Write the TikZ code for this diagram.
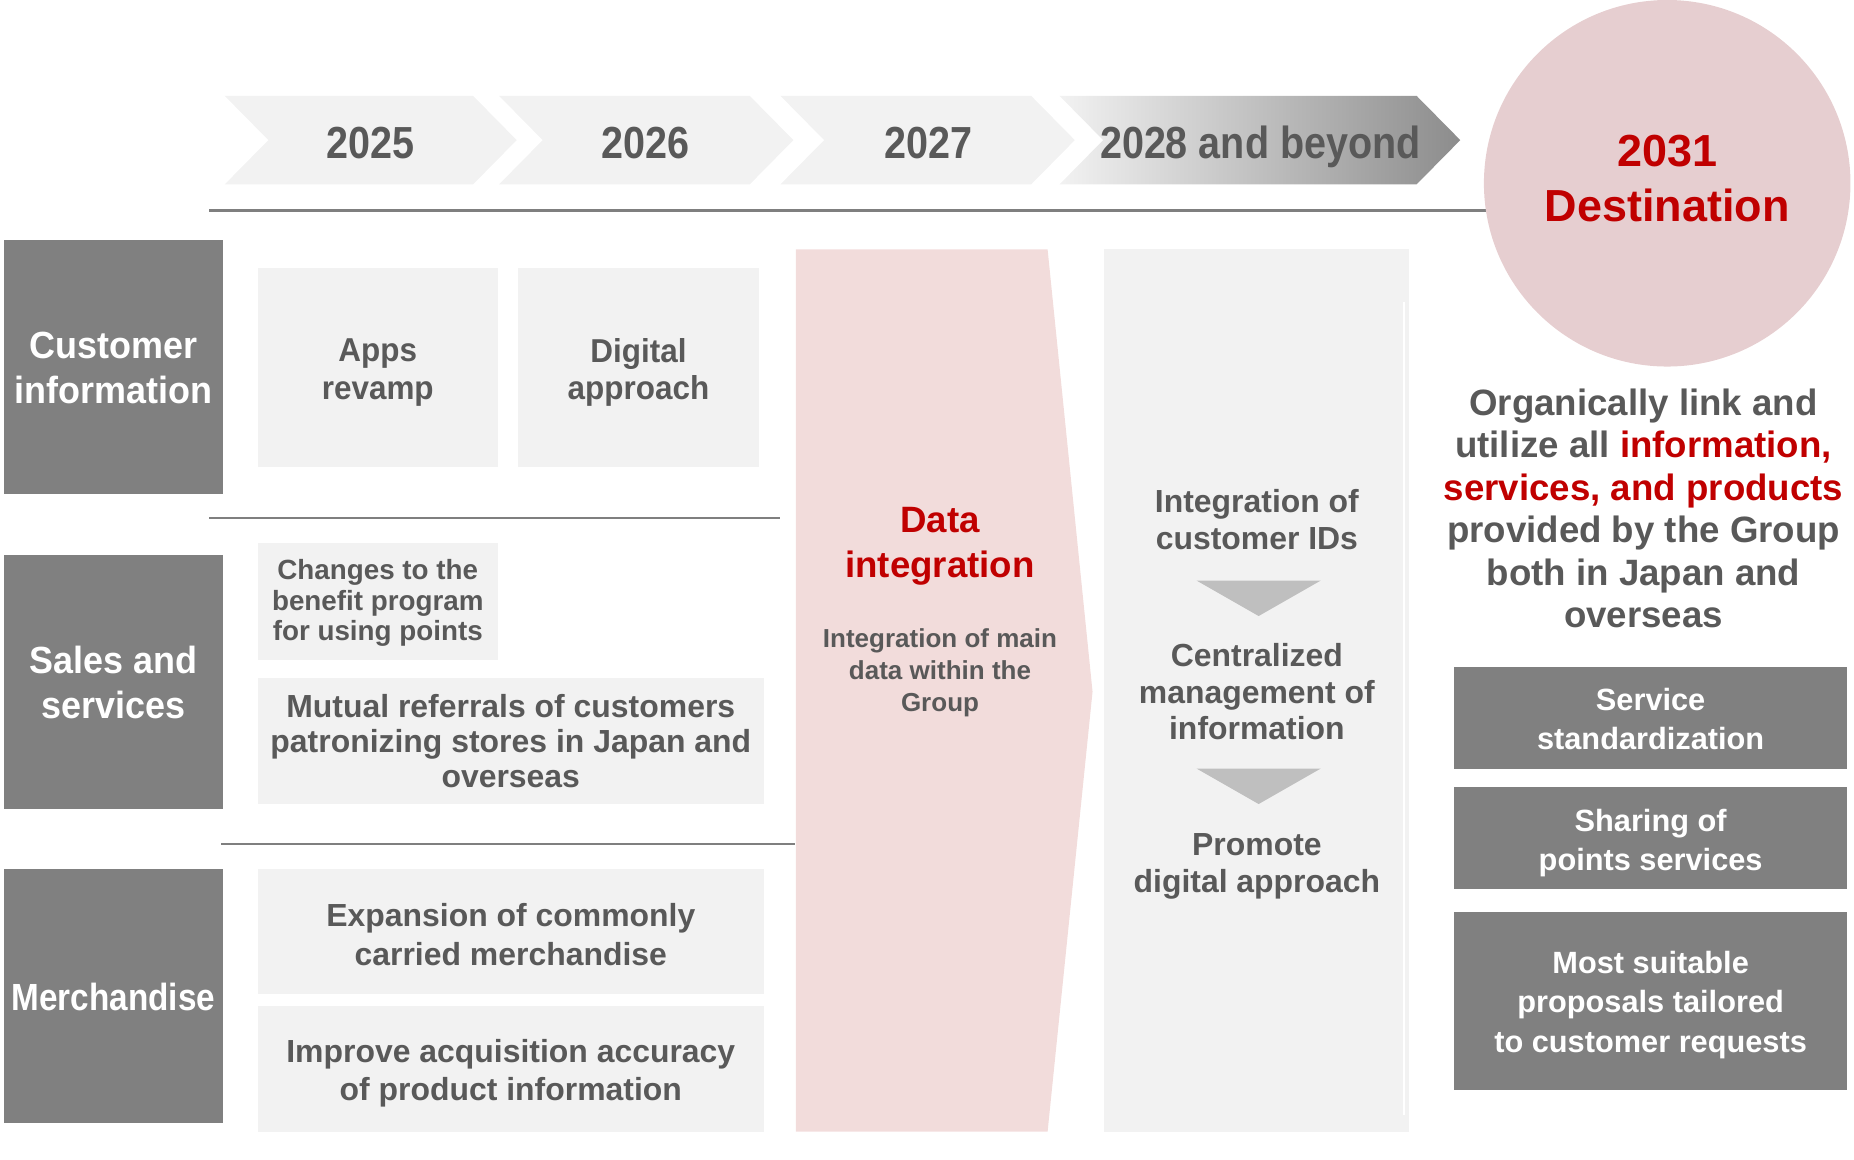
\documentclass[tikz,border=0pt]{standalone}
\usepackage{fontspec}
\setmainfont{Liberation Sans}
\newfontfamily\condf[FakeStretch=0.95]{Liberation Sans}
\newfontfamily\yearf[FakeStretch=0.88]{Liberation Sans}
\newfontfamily\merchf[FakeStretch=0.88]{Liberation Sans}
\definecolor{txt}{HTML}{595959}
\definecolor{lite}{HTML}{F2F2F2}
\definecolor{darkg}{HTML}{808080}
\definecolor{redt}{HTML}{C00000}
\definecolor{pinkarrow}{HTML}{F2DCDB}
\definecolor{circ}{HTML}{E6CED0}
\definecolor{tri}{HTML}{BFBFBF}
\definecolor{linec}{HTML}{7F7F7F}
\begin{document}
\begin{tikzpicture}[x=1pt,y=-1pt,
  fnt/.style 2 args={font=\fontsize{#1}{#2}\selectfont\bfseries},
  ffnt/.style n args={3}{font=#1\fontsize{#2}{#3}\selectfont\bfseries},
  chev/.style={fill=lite},
  catbox/.style={fill=darkg, inner sep=0pt, minimum width=186pt},
  litebox/.style={fill=lite, inner sep=0pt},
  darkbox/.style={fill=darkg, inner sep=0pt, minimum width=332pt},
  lbl/.style={align=center, inner sep=0pt, text=txt},
  wlbl/.style={align=center, inner sep=0pt, text=white},
  sepline/.style={draw=linec, line width=1.3pt},
  tridown/.style={fill=tri}
]
\useasboundingbox (0,0) rectangle (1568,981);

% timeline chevrons
\fill[chev] (190,81) -- (400,81) -- (437,118.5) -- (400,156) -- (190,156) -- (227,118.5) -- cycle;
\fill[chev] (422,81) -- (634,81) -- (671,118.5) -- (634,156) -- (422,156) -- (459,118.5) -- cycle;
\fill[chev] (660,81) -- (872,81) -- (909,118.5) -- (872,156) -- (660,156) -- (697,118.5) -- cycle;
\shade[left color=lite, right color=black!45] (896,81) -- (1198,81) -- (1235,118.5) -- (1198,156) -- (896,156) -- (933,118.5) -- cycle;
\node[lbl, ffnt={\yearf}{38}{44}, anchor=base] (y25) at (313,134) {2025};
\node[lbl, ffnt={\yearf}{38}{44}, anchor=base] (y26) at (546,134) {2026};
\node[lbl, ffnt={\yearf}{38}{44}, anchor=base] (y27) at (785,134) {2027};
\node[lbl, ffnt={\yearf}{38}{44}, anchor=base] (y28) at (1066,134) {2028 and beyond};

% main horizontal line
\coordinate (hl1) at (177,178);
\coordinate (hl2) at (1262,178);
\draw[draw=linec, line width=1.8pt] (hl1) -- (hl2);

% destination circle
\node[circle, fill=circ, minimum size=310pt, inner sep=0pt] (dest) at (1410,155) {};
\node[align=center, inner sep=0pt, text=redt, fnt={38}{47}] (destt) at (1410,151) {2031\\Destination};

% category boxes
\node[catbox, minimum height=215pt] (ci) at (96,310.5) {};
\node[wlbl, ffnt={\condf}{32}{38}] (cit) at (96,311) {Customer\\information};
\node[catbox, minimum height=215pt] (ss) at (96,576.5) {};
\node[wlbl, ffnt={\condf}{32}{38}] (sst) at (96,577) {Sales and\\services};
\node[catbox, minimum height=215pt] (me) at (96,842.5) {};
\node[wlbl, ffnt={\merchf}{32}{38}] (met) at (96,843) {Merchandise};

% separators
\coordinate (s1a) at (177,438);
\coordinate (s1b) at (660,438);
\coordinate (s2a) at (187,714);
\coordinate (s2b) at (672,714);
\draw[sepline] (s1a) -- (s1b);
\draw[sepline] (s2a) -- (s2b);

% light boxes
\node[litebox, minimum width=203pt, minimum height=168pt] (apps) at (319.5,311) {};
\node[lbl, ffnt={\condf}{28}{32}] (appst) at (319.5,315) {Apps\\revamp};
\node[litebox, minimum width=204pt, minimum height=168pt] (digi) at (540,311) {};
\node[lbl, ffnt={\condf}{28}{32}] (digit) at (540,315) {Digital\\approach};
\node[litebox, minimum width=203pt, minimum height=99pt] (chg) at (319.5,508.5) {};
\node[lbl, fnt={23.5}{26}] (chgt) at (319.5,510) {Changes to the\\benefit program\\for using points};
\node[litebox, minimum width=428pt, minimum height=107pt] (mut) at (432,626.5) {};
\node[lbl, fnt={27}{29.5}] (mutt) at (432,627) {Mutual referrals of customers\\patronizing stores in Japan and\\overseas};
\node[litebox, minimum width=428pt, minimum height=106pt] (exp) at (432,788) {};
\node[lbl, fnt={27}{33}] (expt) at (432,790) {Expansion of commonly\\carried merchandise};
\node[litebox, minimum width=428pt, minimum height=106pt] (imp) at (432,904) {};
\node[lbl, fnt={27}{32}] (impt) at (432,908) {Improve acquisition accuracy\\of product information};

% data integration arrow
\fill[pinkarrow] (673,211) -- (886,211) -- (924,585) -- (886,957) -- (673,957) -- cycle;
\node[align=center, inner sep=0pt, text=redt, fnt={31}{38}] (dit) at (795,462) {Data\\integration};
\node[lbl, fnt={22}{27}] (dis) at (795,569) {Integration of main\\data within the\\Group};

% 2028 panel
\fill[lite] (934,211) rectangle (1192,957);
\draw[white, line width=1.2pt] (1187.5,255) -- (1187.5,943);
\node[lbl, fnt={27}{31}] (p1) at (1063,439.5) {Integration of\\customer IDs};
\fill[tridown] (1012,491) -- (1117,491) -- (1064.5,521) -- cycle;
\node[lbl, fnt={27}{31}] (p2) at (1063,585) {Centralized\\management of\\information};
\fill[tridown] (1012,650) -- (1117,650) -- (1064.5,680) -- cycle;
\node[lbl, fnt={27}{31}] (p3) at (1063,733) {Promote\\digital approach};

% right paragraph
\node[lbl, fnt={31}{36}] (para) at (1390,430) {Organically link and\\utilize all \textcolor{redt}{information,}\\\textcolor{redt}{services, and products}\\provided by the Group\\both in Japan and\\overseas};

% right dark boxes
\node[darkbox, minimum height=86pt] (r1) at (1396,607) {};
\node[wlbl, fnt={26}{33}] (r1t) at (1396,608) {Service\\standardization};
\node[darkbox, minimum height=86pt] (r2) at (1396,709) {};
\node[wlbl, fnt={26}{33}] (r2t) at (1396,713) {Sharing of\\points services};
\node[darkbox, minimum height=151pt] (r3) at (1396,846.5) {};
\node[wlbl, fnt={26}{33}] (r3t) at (1396,850) {Most suitable\\proposals tailored\\to customer requests};
\end{tikzpicture}
\end{document}
